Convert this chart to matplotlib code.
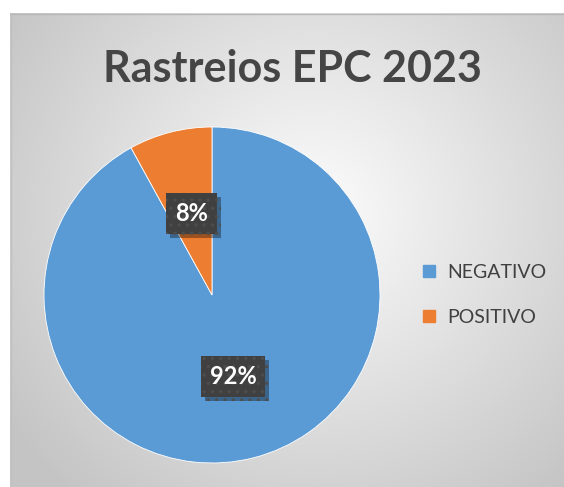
import numpy as np
import matplotlib
matplotlib.use("Agg")
import matplotlib.pyplot as plt
from matplotlib.lines import Line2D
import matplotlib.patheffects as pe

# Data
categories = ["NEGATIVO", "POSITIVO"]
values = [92, 8]
colors = ["#5B9BD5", "#ED7D31"]
title = "Rastreios EPC 2023"

W, H = 564, 487
fig = plt.figure(figsize=(W / 100, H / 100), dpi=100)
fig.patch.set_facecolor("white")

# Chart area with radial gradient background
x0, y0 = 10 / W, 0.0
bg = fig.add_axes([x0, y0, 1 - x0, 1 - 13 / H])
bg.set_axis_off()
nx, ny = 300, 260
xx, yy = np.meshgrid(np.linspace(0, 1, nx), np.linspace(0, 1, ny))
cx, cy = 0.55, 0.42  # gradient centre (from top)
d = np.sqrt(((xx - cx) * 1.15) ** 2 + (yy - cy) ** 2)
d = np.clip(d / 0.78, 0, 1)
light = np.array([0.99, 0.99, 0.99])
dark = np.array([0.77, 0.77, 0.77])
img = light[None, None, :] * (1 - d[..., None]) + dark[None, None, :] * d[..., None]
bg.imshow(img, extent=[0, 1, 0, 1], origin="upper", aspect="auto")
bg.set_xlim(0, 1)
bg.set_ylim(0, 1)
bg.plot([0, 1], [0.998, 0.998], color="#b8b8b8", lw=1.0)
bg.plot([0.001, 0.001], [0, 1], color="#c0c0c0", lw=1.0)

# Title
fig.text(292 / W, 1 - 69 / H, title, ha="center", va="center",
         fontsize=31, fontweight="bold", color="#454545", family="Lato")

# Pie
R = 168
cxp, cyp = 212, 295
ax = fig.add_axes([(cxp - R) / W, (H - cyp - R) / H, 2 * R / W, 2 * R / H])
ax.set_axis_off()
wedges, texts, autotexts = ax.pie(
    values, colors=colors, startangle=90, counterclock=False,
    autopct=lambda p: f"{p:.0f}%", pctdistance=0.5,
    wedgeprops=dict(edgecolor="white", linewidth=0.6),
    textprops=dict(color="white", fontsize=17, fontweight="bold", family="Lato"))
ax.set_xlim(-1, 1)
ax.set_ylim(-1, 1)
ax.set_aspect("equal")

plt.rcParams["hatch.linewidth"] = 1.2
for t in autotexts:
    t.set_bbox(dict(boxstyle="square,pad=0.38", fc="#404040", ec="#4d4d4d",
                    lw=0, hatch=".."))
    t.get_bbox_patch().set_path_effects(
        [pe.SimplePatchShadow(offset=(3, -3), shadow_rgbFace="black", alpha=0.35),
         pe.Normal()])
    t.set_zorder(5)

# Legend
handles = [Line2D([0], [0], marker="s", color="none", markerfacecolor=c,
                  markeredgecolor=c, markersize=8) for c in colors]
fig.legend(handles, categories, loc="center left",
           bbox_to_anchor=(404 / W, 1 - 295 / H), frameon=False,
           labelcolor="#404040", handlelength=0.8,
           handletextpad=0.5, labelspacing=1.45,
           prop=dict(family="Lato", size=14))

fig.savefig("out.png", dpi=100)
